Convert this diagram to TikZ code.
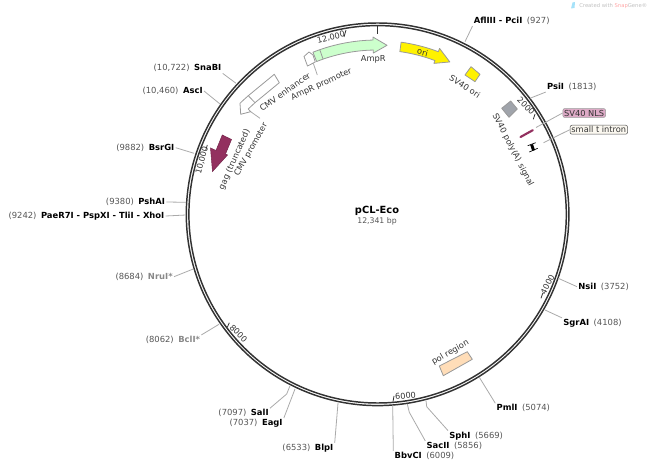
\documentclass[tikz,border=0pt]{standalone}
\usepackage{fontspec}
\setmainfont{DejaVu Sans}
\definecolor{ringc}{HTML}{333333}
\definecolor{numc}{HTML}{555555}
\definecolor{txtc}{HTML}{333333}
\definecolor{linec}{HTML}{AAAAAA}
\definecolor{edgec}{HTML}{999999}
\definecolor{grayname}{HTML}{888888}
\definecolor{gagc}{HTML}{93305F}
\definecolor{ampc}{HTML}{CCFFCC}
\definecolor{polc}{HTML}{FFDDB8}
\definecolor{sqc}{HTML}{A0A4AB}
\definecolor{nlsc}{HTML}{DDAAC6}
\definecolor{intc}{HTML}{FBF8F0}
\newcommand{\site}[7][black]{% color, id, anchor, x, y, name, number-text
  \node[sitelbl,anchor=#3] (#2) at (#4,#5) {\textcolor{#1}{\textbf{#6}}\hspace{3.4pt}\textcolor{numc}{#7}};}
\newcommand{\sitel}[7][black]{%
  \node[sitelbl,anchor=#3] (#2) at (#4,#5) {\textcolor{numc}{#7}\hspace{3.4pt}\textcolor{#1}{\textbf{#6}}};}
\tikzset{
  sitelbl/.style={font=\fontsize{6.3pt}{7.5pt}\selectfont,inner sep=0.8pt},
  sline/.style={draw=linec,line width=.6pt},
  feat/.style={draw=edgec,line width=.6pt,line join=round},
  flabel/.style={font=\fontsize{6.2pt}{7.5pt}\selectfont,text=txtc,inner sep=0pt},
  ticklbl/.style={font=\fontsize{6.1pt}{7pt}\selectfont,text=txtc,inner sep=0pt},
  tickline/.style={draw=ringc,line width=.6pt},
  boxlabel/.style={font=\fontsize{6.2pt}{7.5pt}\selectfont,text=txtc,rounded corners=1.5pt,draw,inner sep=1pt}
}
\begin{document}
\begin{tikzpicture}[x=.75pt,y=-.75pt]
\useasboundingbox (0,0) rectangle (649,466);
\coordinate (c) at (377.6,214.3);
% ring
\draw[ringc,line width=1.1pt] (c) circle[radius=191.3];
\draw[ringc,line width=1.1pt] (c) circle[radius=188.7];
% zero tick and number ticks
\draw[ringc,line width=1.1pt] (377.3,26) -- (377.3,34);
\begin{scope}[shift={(377,214)}]
% AmpR
\draw[feat,fill=ampc] (-111.6:174) arc[start angle=-111.6,end angle=-91.3,radius=174]
  -- (-91.3:177) -- (-86.6:169) -- (-91.3:161) -- (-91.3:164)
  arc[start angle=-91.3,end angle=-111.6,radius=164] -- cycle;
\draw[feat] (-109.2:174) -- (-109.2:164);
% ori
\draw[feat,fill=yellow] (-82:173.5) arc[start angle=-82,end angle=-69.3,radius=173.5]
  -- (-69.3:177) -- (-64.4:168.6) -- (-69.3:161) -- (-69.3:164)
  arc[start angle=-69.3,end angle=-82,radius=164] -- cycle;
\end{scope}
\coordinate (t12a) at (346,30); \coordinate (t12b) at (344,37);
\coordinate (t2a) at (535,114); \coordinate (t2b) at (533.3,119.3);
\coordinate (t4a) at (542.7,293.3); \coordinate (t4b) at (541,298.3);
\coordinate (t6a) at (394,396); \coordinate (t6b) at (393,401.7);
\coordinate (t8a) at (229.3,322.7); \coordinate (t8b) at (227.3,327.3);
\coordinate (t10a) at (207.3,145); \coordinate (t10b) at (205.8,150);
\foreach \n in {12,2,4,6,8,10} \draw[tickline] (t\n a) -- (t\n b);
\node[ticklbl,rotate=14] (n12) at (331,37.5) {12,000};
\node[ticklbl,rotate=-45] (n2) at (526,106) {2000};
\node[ticklbl,rotate=62] (n4) at (547.5,284.5) {4000};
\node[ticklbl,rotate=5] (n6) at (405.5,395.7) {6000};
\node[ticklbl,rotate=-45] (n8) at (238.5,333.5) {8000};
\node[ticklbl,rotate=75] (n10) at (202,160.5) {10,000};
% features
\draw[feat] (304,56.5) -- (309,52) -- (313,55) -- (315.3,62) -- (307.5,66) -- cycle;
\draw[feat] (274.3,74.3) -- (279.3,82.7) -- (255,102.7) -- (248.3,95.7) -- cycle;
\draw[feat] (248.3,95.7) -- (243.5,100) -- (240,103.3) -- (240.7,114.3) -- (250.7,111.7) -- (248.2,109) -- (255,102.7);
\draw[draw=gagc!80!black,line width=.4pt,fill=gagc] (222.3,135) -- (231.5,139.5) -- (225.5,154) -- (227.5,155) -- (212.5,171.5) -- (210.5,148) -- (216,150.5) -- cycle;
\draw[feat,fill=yellow] (471,66.7) -- (480,74.3) -- (475,81.7) -- (465,75) -- cycle;
\draw[feat,fill=sqc] (510.7,101) -- (517.3,109) -- (509,117.3) -- (501.7,108.3) -- cycle;
\draw[feat,fill=polc] (439.3,366) -- (467.3,351.7) -- (472.3,359.3) -- (443.3,375.7) -- cycle;
\draw[gagc,line width=1.6pt,line cap=round] (520.5,137) -- (532.8,130.2);
\draw[black,line width=.5pt] (527.7,145.7) -- (535.7,142.7);
\draw[black,line width=.5pt] (529.3,152) -- (537.7,148.3);
\draw[black,line width=2.2pt] (531.6,144.5) -- (533.6,150.5);
% connectors of features
\coordinate (cmvp) at (250.7,111.7); \coordinate (cmvpe) at (260,118.3);
\draw[sline] (cmvp) -- (cmvpe);
\coordinate (ampp) at (313.3,63.3); \coordinate (amppe) at (317.3,75);
\draw[sline] (ampp) -- (amppe);
% feature labels
\node[flabel] (lAmpR) at (373.3,59) {AmpR};
\node[flabel,rotate=-14] (lori) at (422.7,52.3) {ori};
\node[flabel,rotate=-33] (lsvo) at (465,86.7) {SV40 ori};
\node[flabel,rotate=-62.7] (lsvp) at (512.8,150) {SV40 poly(A) signal};
\node[flabel,rotate=35.5] (lenh) at (285,92) {CMV enhancer};
\node[flabel,rotate=24.6] (lamp) at (321.5,84.5) {AmpR promoter};
\node[flabel,rotate=61] (lcmv) at (251.2,149.8) {CMV promoter};
\node[flabel,rotate=66] (lgag) at (234.6,159.5) {gag (truncated)};
\node[flabel,rotate=30] (lpol) at (450.3,352.5) {pol region};
% boxed labels
\node[boxlabel,draw=edgec,fill=nlsc] (nls) at (584.2,113) {SV40 NLS};
\node[boxlabel,draw=numc,fill=intc] (int) at (598.8,129.7) {small t intron};
\coordinate (nlsf) at (536,127.5); \coordinate (intf) at (543.5,142.7);
\draw[sline] (nlsf) -- (nls.west);
\draw[sline] (intf) -- (int.west);
% centre
\node[font=\bfseries\fontsize{7.4pt}{9pt}\selectfont,inner sep=0pt] (title) at (377,211) {pCL-Eco};
\node[font=\fontsize{5.8pt}{7.5pt}\selectfont,text=numc,inner sep=0pt] (size) at (377,221.5) {12,341 bp};
% sites right
\site{s1}{west}{472.5}{21}{AflIII - PciI}{(927)}
\site{s2}{west}{545.7}{87}{PsiI}{(1813)}
\site{s3}{west}{577}{286.7}{NsiI}{(3752)}
\site{s4}{west}{562}{323.3}{SgrAI}{(4108)}
\site{s5}{west}{495.3}{408.3}{PmlI}{(5074)}
\site{s6}{west}{448}{436}{SphI}{(5669)}
\site{s7}{west}{425.3}{446}{SacII}{(5856)}
\site{s8}{west}{393.3}{456}{BbvCI}{(6009)}
% sites left
\sitel{s9}{east}{334.7}{448.3}{BlpI}{(6533)}
\sitel{s10}{east}{283.9}{423.3}{EagI}{(7037)}
\sitel{s11}{east}{270}{413.3}{SalI}{(7097)}
\sitel[grayname]{s12}{east}{201.4}{340}{BclI*}{(8062)}
\sitel[grayname]{s13}{east}{174}{276.7}{NruI*}{(8684)}
\sitel{s14}{east}{165.7}{216}{PaeR7I - PspXI - TliI - XhoI}{(9242)}
\sitel{s15}{east}{166.4}{202}{PshAI}{(9380)}
\sitel{s16}{east}{175.7}{147.7}{BsrGI}{(9882)}
\sitel{s17}{east}{204}{91}{AscI}{(10,460)}
\sitel{s18}{east}{222.7}{68.3}{SnaBI}{(10,722)}
% ring ends
\coordinate (r1) at (465,41.7);
\coordinate (r2) at (530,98.3);
\coordinate (r3) at (558.3,278.3);
\coordinate (r4) at (545,310);
\coordinate (r5) at (479.3,377.3);
\coordinate (r6) at (426,400.7); \coordinate (m6) at (426.7,406.7);
\coordinate (r7) at (407.3,404); \coordinate (m7) at (409.3,412.3);
\coordinate (r8) at (392.7,405);
\coordinate (r9) at (338,403);
\coordinate (r10) at (295,389);
\coordinate (r11) at (290,385.7); \coordinate (m11) at (286.7,394);
\coordinate (r12) at (219,324.3);
\coordinate (r13) at (193.3,269);
\coordinate (r14) at (186,215);
\coordinate (r15) at (186,202.3);
\coordinate (r16) at (194,153.3);
\coordinate (r17) at (220,104);
\coordinate (r18) at (236,83.3);
\draw[sline] (r1) -- (s1.south west);
\draw[sline] (r2) -- (s2.south west);
\draw[sline] (r3) -- (s3.west);
\draw[sline] (r4) -- (s4.north west);
\draw[sline] (r5) -- (s5.north west);
\draw[sline] (r6) -- (m6) -- (s6.north west);
\draw[sline] (r7) -- (m7) -- (s7.north west);
\draw[sline] (r8) -- (s8.north west);
\draw[sline] (r9) -- (s9.north east);
\draw[sline] (r10) -- (s10.north east);
\draw[sline] (r11) -- (m11) -- (s11.north east);
\draw[sline] (r12) -- (s12.north east);
\draw[sline] (r13) -- (s13.east);
\draw[sline] (r14) -- (s14.east);
\draw[sline] (r15) -- (s15.east);
\draw[sline] (r16) -- (s16.east);
\draw[sline] (r17) -- (s17.east);
\draw[sline] (r18) -- (s18.south east);
% logo
\fill[cyan!35] (572.5,2.5) -- (575,2) -- (574.5,8) -- (571,8.5) -- cycle;
\node[anchor=west,inner sep=0pt,font=\fontsize{3.95pt}{5pt}\selectfont] (logo) at (579,5.7) {\textcolor{black!25}{Created with }\textcolor{red!35}{Snap}\textcolor{black!25}{Gene®}};
\end{tikzpicture}
\end{document}
